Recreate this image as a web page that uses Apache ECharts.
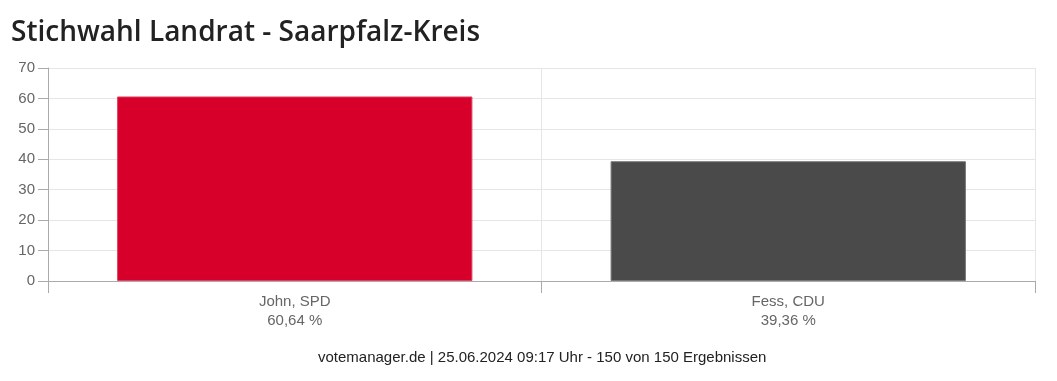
<!DOCTYPE html>
<html><head><meta charset="utf-8">
<script src="https://cdn.jsdelivr.net/npm/echarts@6/dist/echarts.min.js"></script>
<style>html,body{margin:0;padding:0;background:#fff}#c{width:1057px;height:381px}</style>
</head><body><div id="c"></div>
<script>
const titleText = "Stichwahl Landrat - Saarpfalz-Kreis";
const footerText = "votemanager.de | 25.06.2024 09:17 Uhr - 150 von 150 Ergebnissen";
const categories = ["John, SPD", "Fess, CDU"];
const values = [60.64, 39.36];
const colors = ["#d7002a", "#4a4a4a"];
const yTicks = [0, 10, 20, 30, 40, 50, 60, 70];

const chart = echarts.init(document.getElementById('c'));
chart.setOption({
  animation: false,
  title: [{
    text: titleText, left: 6, top: 14,
    textStyle: {fontFamily: "Open Sans", fontWeight: 600, fontSize: 28, color: "#222"}
  }, {
    text: footerText, left: 313, top: 345,
    textStyle: {fontFamily: "Liberation Sans", fontWeight: 'normal', fontSize: 15, color: "#222"}
  }],
  grid: {left: 48, right: 22, top: 68, bottom: 100, containLabel: false},
  xAxis: {
    type: 'category', data: categories,
    axisLine: {lineStyle: {color: '#aaa'}},
    axisTick: {show: true, length: 12, lineStyle: {color: '#aaa'}},
    splitLine: {show: true, lineStyle: {color: '#e6e6e6'}},
    axisLabel: {
      fontFamily: "Liberation Sans", fontSize: 15, color: '#666', lineHeight: 19, margin: 11,
      formatter: (v, i) => v + "\n" + values[i].toFixed(2).replace('.', ',') + " %"
    }
  },
  yAxis: {
    type: 'value', min: yTicks[0], max: yTicks[yTicks.length - 1], interval: 10,
    axisLine: {show: true, lineStyle: {color: '#aaa'}},
    axisTick: {show: true, length: 10, lineStyle: {color: '#aaa'}},
    splitLine: {lineStyle: {color: '#e6e6e6'}},
    axisLabel: {fontFamily: "Liberation Sans", fontSize: 15, color: '#666', margin: 13}
  },
  series: [{
    type: 'bar', barCategoryGap: '28%',
    data: values.map((v, i) => ({value: v, itemStyle: {color: colors[i], borderColor: i ? '#777' : '#e04060', borderWidth: 1}}))
  }]
});
</script></body></html>
